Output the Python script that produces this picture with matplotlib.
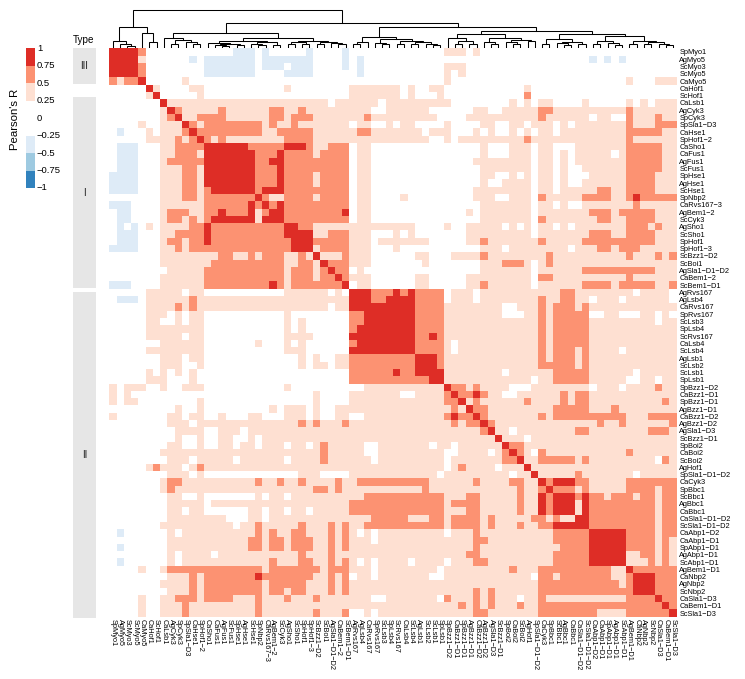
import numpy as np
import matplotlib
matplotlib.use("Agg")
import matplotlib.pyplot as plt
from matplotlib.colors import ListedColormap, BoundaryNorm

plt.rcParams['font.family'] = ['Liberation Sans', 'DejaVu Sans']

W, H = 745, 679

gene_labels = ["SpMyo1", "AgMyo5", "ScMyo3", "ScMyo5", "CaMyo5", "CaHof1", "ScHof1", "CaLsb1", "AgCyk3", "SpCyk3",
               "SpSla1-D3", "CaHse1", "SpHof1-2", "CaSho1", "CaFus1", "AgFus1", "ScFus1", "SpHse1", "AgHse1", "ScHse1",
               "SpNbp2", "CaRvs167-3", "AgBem1-2", "ScCyk3", "AgSho1", "ScSho1", "SpHof1", "SpHof1-3", "ScBzz1-D2", "ScBoi1",
               "AgSla1-D1-D2", "CaBem1-2", "ScBem1-D1", "AgRvs167", "AgLsb4", "CaRvs167", "SpRvs167", "ScLsb3", "SpLsb4", "ScRvs167",
               "CaLsb4", "ScLsb4", "AgLsb1", "ScLsb2", "ScLsb1", "SpLsb1", "SpBzz1-D2", "CaBzz1-D1", "SpBzz1-D1", "AgBzz1-D1",
               "CaBzz1-D2", "AgBzz1-D2", "AgSla1-D3", "ScBzz1-D1", "SpBoi2", "CaBoi2", "ScBoi2", "AgHof1", "SpSla1-D1-D2", "CaCyk3",
               "SpBbc1", "ScBbc1", "AgBbc1", "CaBbc1", "CaSla1-D1-D2", "ScSla1-D1-D2", "CaAbp1-D2", "CaAbp1-D1", "SpAbp1-D1", "AgAbp1-D1",
               "ScAbp1-D1", "AgBem1-D1", "CaNbp2", "AgNbp2", "ScNbp2", "CaSla1-D3", "CaBem1-D1", "ScSla1-D3"]

# correlation bins: - is -0.25..0 shown blue, . white, 1 0.25-0.5, 2 0.5-0.75, 3 0.75-1
# lower triangle of the first 54 genes, one string per row
lower_rows = [
    "3", "33", "333", "3333", "21223",
    ".....3", ".....13", ".......3", ".......13", ".......123",
    "....1..1113", ".-...1.11123", ".....11112123",
    ".---...112222" + "3",
    ".---...11222" + "1" + "33",
    ".---...1" + "22222" + "333",
    ".---...111" + "22" + "1" + "3333",
    "----...111221" + "33333",
    "----...111221" + "333333",
    "----...111221" + "2" + "333333",
    "......." + "111221" + "2222222" + "3",
    "---...." + "111111" + "222222" + "3" + "2" + "3",
    ".--...." + "1222" + "11" + "22" + "3" + "222" + "3" + "1" + "2" + "3",
    ".--...." + "122" + "1" + "2" + "1" + "2" + "333333" + "1" + "333",
    ".-.-.1." + "1111" + "22" + "3" + "2" * 10 + "3",
    ".---..." + "11" + "2222" + "3" + "2" * 10 + "33",
    ".---..." + "122" + "1" + "22" + "3" + "2" * 11 + "33",
    "----..." + "112" + "1" + "22" + "2" * 11 + "2" + "333",
    "......." + "1" * 8 + "22" + "11" + "2" + "1" + "222" + "1" + "1" + "2" + "1" + "3",
    "......." + "1" * 7 + "2" * 10 + "1" + "1" + "22" + "1" + "3",
    "........" + "11111" + "2" * 11 + "1" + "222" + "1" + "2" + "3",
    "......." + "111111" + "2" * 11 + "1" + "222" + "1" + "22" + "3",
    "---...." + "111111" + "2" * 9 + "3" + "2" + "1" + "2" * 7 + "3",
    "....." + "11111" + "." + "11" + "." * 11 + "1" + "11111" + "." + "1" + "." + "3",
    ".---." + "111111" + "2" + "1" * 13 + "1" * 8 + "33",
    "....." + "1111" + "2" + "1" + "2" + "1" + "1" * 12 + "11111" + "." + "11" + "333",
    "....." + "111" + "." + "1" + "." + "11" + "." * 11 + "1" + "." * 8 + "22" + "33",
    "....." + "11" + ".." + "1" + "." + "11" + "." * 11 + "1" + ".1" + "." * 6 + "22" + "333",
    "....." + "1" * 8 + "." * 11 + "1" + ".1" + "." * 6 + "2" + "33333",
    "....." + "11111" + "." + "11" + "." * 11 + "1" + "111" + "." * 5 + "3" * 7,
    "......." + "111111" + "." * 7 + "1" + "..." + "1" + ".1" + "." * 6 + "2" + "3" * 7,
    "....." + "1" * 8 + "." * 11 + "1" + "11" + "." * 6 + "3" * 9,
    "......." + "111" + "." + "11" + "." * 12 + ".1.1..11" + "2" * 9 + "3",
    "......." + "111" + ".." + "1" + "." * 12 + ".1.11.11" + "2" * 9 + "33",
    ".....1.1.1.1." + "." * 12 + "." * 8 + "2" * 6 + "3" + "22" + "333",
    ".....111...1." + "." * 12 + "." * 8 + "2" * 11 + "33",
    "1.111.." + "1" + ".." + "111" + "." * 11 + "1" + "." * 10 + "1" * 11 + "3",
    "1.1...." + "......" + "." * 12 + "...1...." + "1" * 7 + ".." + "1111" + "2" + "3",
    "1.11..." + "....." + "1" + "." * 12 + "...1...." + "1" * 13 + "22" + "3",
    "." * 9 + "1" + ".." + "1" + "." * 9 + "1" + "." + "1" + "11.1..11" + "1" * 13 + "1" + "2" + "1" + "3",
    "1" + "." * 7 + "11" + "." + "11" + ".." + "1" + "..." + "11" + "..." + "1" + "11.1..11" + ".." + "1" * 11 + "2" + "3" + "22" + "3",
    "." * 8 + "111" + "." + "1" * 13 + "1" + "2" + "1" + "2" + "111" + "2" + "1" * 13 + "1" + "2" + "1" + "2" + "2" + "3",
    "." * 9 + "1111" + ".." + "111" + "." + "1" * 6 + "1" * 26 + "2" + "3",
    "." * 9 + "1" + ".." + "1" + ".." + "11" + ".." + "1" + "." + "1111" + "1" * 28 + "3",
]

# genes 55-78 as columns, for the first 54 genes as rows
right_rows = [
    "...... ...... ...... ......",
    "...... ...... -.-.-. ......",
    "...... ...... ...... ......",
    "...... ...... ...... ......",
    "...... ...... .....1 ...111",
    "...1.. ...... ...... ......",
    "...2.. ...... ...... ......",
    ".1.1.1 1....1 .....1 .1.111",
    "111112 211111 111112 111111",
    "111112 111111 .11..2 111211",
    ".11.11 1.1.11 111112 111222",
    ".1.1.1 1.1111 111112 222211",
    "111211 111111 111112 111111",
    ".111.1 1...11 111112 222211",
    ".111.1 1.1.11 111.12 222211",
    "1111.1 1.1.11 111112 222211",
    "1111.1 1.1..1 111112 222211",
    ".1.1.1 1.1... 111112 222111",
    "1111.1 1.1..1 111112 222111",
    "1111.1 1.1111 122112 222111",
    ".111.2 111112 222112 322222",
    "1111.1 1.1..1 111111 211111",
    "1111.1 111111 222122 222111",
    "1111.2 111111 122112 222111",
    ".1.1.1 1.1.11 111112 221211",
    "1111.1 111111 222112 222111",
    "111112 111112 222222 222111",
    ".11111 111.11 122122 211111",
    "111111 211111 111112 111212",
    "2221.1 211111 111111 111111",
    "1111.1 111112 222222 222111",
    "1111.2 211111 111112 111111",
    "1111.1 111112 222122 222112",
    "111111 112211 111111 .1111.",
    "111112 112211 .111.1 11111.",
    "..1112 122212 111111 111111",
    "...112 122222 ..11.. .11.1.",
    "111112 122222 111111 111.11",
    "111112 122222 111111 111111",
    "111112 122222 111111 111111",
    "111112 122222 111111 111111",
    "111112 122212 1111.1 111111",
    "111112 122212 111111 111111",
    "111112 222212 111111 111111",
    ".11111 122222 111111 .11111",
    "1111.1 122222 11111. .11.11",
    "1...11 111111 .111.1 111211",
    "..1111 112122 111111 111111",
    "111211 112122 111111 111121",
    "111111 122222 111211 111111",
    "111112 122222 222221 112222",
    "111111 111111 121121 111112",
    "1.1111 111122 111111 112221",
    "111.11 111111 111111 111111",
]

# upper triangle of the last 24 genes
corner_rows = [
    "322" + "1" * 21,
    "3" + "2" + "1" + "." + "2" + "1" * 11 + "2" + "1" * 6,
    "3" + "11" + "22222" + "1" + "2" + "1" * 9 + "." + "2" + "1",
    "3" + "1" * 20,
    "3" + "11111" + "2" + "1" * 7 + "." + "11111",
    "3" + "2" + "333" + "22" + "11111" + "2" * 7,
    "3" + "222" + "1" + "2" + "11111" + "2222" + "1" + "22",
    "333" + "2" + "3" + "22" + "1" + "222" + "1" + "22" + "1" + "22",
    "33" + "1" + "3" + "2" * 9 + "1" + "22",
    "3" + "1" + "3" + "2" * 9 + "1" + "22",
    "33" + "2" * 9 + "1" + "22",
    "3" + "2" * 9 + "1" + "22",
    "33333" + "2222" + "1" + "22",
    "3333" + "2222" + "1" + "2" + "1",
    "333" + "2222" + "1" + "2" + "1",
    "33" + "11" + "22" + "1" + "2" + "1",
    "3" + "111" + "2" + "1" + "2" + "1",
    "3" + "222222",
    "333" + "222",
    "33" + "222",
    "3" + "222",
    "3" + "22",
    "32",
    "3",
]

# (merge height in px above the leaves, left, right), ints are gene positions
tree_motors = (21, (7, 0, (4, 1, (2, 2, 3))), (15, 4, (6, 5, 6)))
tree_a = (10, 7, (8, (4, 8, 9), (6, 10, (4.5, 11, 12))))
tree_b = (7, (5, 13, (4.5, (3.5, 14, (2.5, 15, 16)), (3.5, 17, 18))),
          (6, (4.5, 19, (3.5, 20, 21)), (3.5, 22, 23)))
tree_c = (7, (6, (4, 24, 25), (4, 26, 27)), (6, (4, 28, 29), (5, 30, (4, 31, 32))))
tree_d = (6, (4, 33, 34), 35)
tree_e = (9, (5, 36, (4, 37, 38)), (7, (4, 39, 40), (6, (4, 41, 42), (4, 43, (3, 44, 45)))))
tree_f = (14, (10, 46, (7, (4, 47, 48), (4, 49, 50))),
          (10, (6, 51, (4, 52, 53)), (8.5, (6, 54, (4, 55, 56)), (7.5, 57, 58))))
tree_g = (14, (9, (4, 59, 60), (6, (5, 61, (3, 62, 63)), (4, 64, 65))),
          (12, (7, (4, 66, 67), (5, 68, (3, 69, 70))), (7, (4, 71, 72), (6, (4, 73, 74), (4, 75, (3, 76, 77))))))
tree_root = (38, tree_motors, (25, (15, tree_a, (10, tree_b, tree_c)),
                               (21, (11, tree_d, tree_e), (17, tree_f, tree_g))))

type_names = ["III", "I", "II"]
type_spans = [(-0.05, 4.9), (6.65, 32.95), (33.45, 78.15)]

legend_bounds = [-1, -0.75, -0.5, -0.25, 0, 0.25, 0.5, 0.75, 1]
legend_labels = ["\u22121", "\u22120.75", "\u22120.5", "\u22120.25", "0", "0.25", "0.5", "0.75", "1"]
legend_colors = ["#3182bd", "#9ecae1", "#deebf7", "#ffffff", "#ffffff", "#fee0d2", "#fc9272", "#de2d26"]


def build_matrix():
    n = len(gene_labels)
    codes = {".": 0, "-": -1, "1": 1, "2": 2, "3": 3}
    mat = np.zeros((n, n))
    for i, row in enumerate(lower_rows):
        assert len(row) == i + 1, (i, len(row))
        for j, ch in enumerate(row):
            mat[i, j] = mat[j, i] = codes[ch]
    for i, row in enumerate(right_rows):
        row = row.replace(" ", "")
        assert len(row) == 24, (i, len(row))
        for j, ch in enumerate(row):
            mat[i, 54 + j] = mat[54 + j, i] = codes[ch]
    for i, row in enumerate(corner_rows):
        assert len(row) == 24 - i, (i, len(row))
        for j, ch in enumerate(row):
            mat[54 + i, 54 + i + j] = mat[54 + i + j, 54 + i] = codes[ch]
    return mat


def px_axes(fig, x0, y0, x1, y1):
    return fig.add_axes([x0 / W, 1 - y1 / H, (x1 - x0) / W, (y1 - y0) / H])


def draw_tree(ax, node):
    if isinstance(node, int):
        return node + 0.5, 0
    h, left, right = node
    xl, hl = draw_tree(ax, left)
    xr, hr = draw_tree(ax, right)
    ax.plot([xl, xl, xr, xr], [hl, h, h, hr], color="black", lw=0.75, solid_joinstyle="miter")
    return (xl + xr) / 2, h


fig = plt.figure(figsize=(W / 100, H / 100), dpi=100)
mat = build_matrix()
n = len(gene_labels)
labels = [s.replace("-", "\u2212") for s in gene_labels]

# heatmap
ax = px_axes(fig, 109.3, 48.3, 676.7, 616.7)
cmap = ListedColormap(["#deebf7", "#ffffff", "#fee0d2", "#fc9272", "#de2d26"])
norm = BoundaryNorm([-1.5, -0.5, 0.5, 1.5, 2.5, 3.5], cmap.N)
ax.pcolormesh(np.arange(n + 1), np.arange(n + 1), mat, cmap=cmap, norm=norm)
ax.set_xlim(0, n)
ax.set_ylim(n, 0)
ax.yaxis.tick_right()
ax.set_yticks(np.arange(n) + 0.5)
ax.set_yticklabels(labels, fontsize=5.3)
ax.set_xticks(np.arange(n) + 0.5)
ax.set_xticklabels(labels, fontsize=5.3, rotation=-90, ha="center", va="top")
ax.tick_params(length=0, pad=2)
for s in ax.spines.values():
    s.set_visible(False)

# dendrogram
dax = px_axes(fig, 109.3, 8, 676.7, 48)
draw_tree(dax, tree_root)
dax.set_xlim(0, n)
dax.set_ylim(0, 40)
dax.axis("off")

# type strip
tax = px_axes(fig, 73, 48.3, 96, 616.7)
tax.set_xlim(0, 1)
tax.set_ylim(n, 0)
tax.axis("off")
for name, (a, b) in zip(type_names, type_spans):
    tax.barh((a + b) / 2, 1, height=b - a, left=0, color="#e6e6e6", clip_on=False)
    tax.text(0.5, (a + b) / 2, name, ha="center", va="center", fontsize=7, color="#222222")
fig.text(84 / W, 1 - 40 / H, "Type", ha="center", va="center", fontsize=7.1)

# legend
lax = px_axes(fig, 26, 48.3, 35, 188)
lax.pcolormesh([0, 1], legend_bounds, np.arange(8).reshape(-1, 1), cmap=ListedColormap(legend_colors), vmin=0, vmax=7)
lax.set_xlim(0, 1)
lax.set_ylim(-1, 1)
lax.axis("off")
for v, t in zip(legend_bounds, legend_labels):
    lax.text(1.2, v, t, ha="left", va="center", fontsize=6.8, clip_on=False)
fig.text(15 / W, 1 - 119 / H, "Pearson's R", rotation=90, ha="center", va="center", fontsize=8.2)

fig.savefig("out.png", dpi=100)
